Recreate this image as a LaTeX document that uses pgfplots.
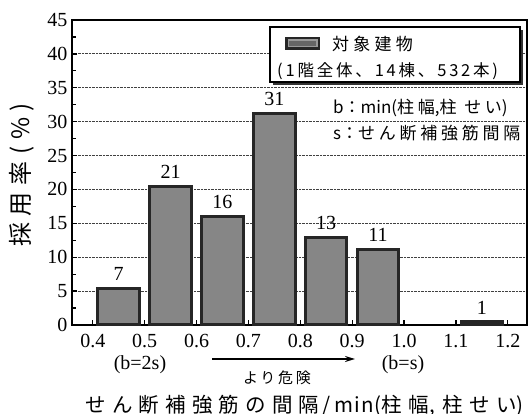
\documentclass[border=0pt]{standalone}
\usepackage{pgfplots}
\pgfplotsset{compat=1.18}
\usepackage{fontspec}
\setmainfont{Liberation Serif}
\newfontfamily\jp{Noto Sans CJK JP}
\usetikzlibrary{arrows.meta}
\begin{document}
\begin{tikzpicture}
\begin{axis}[
  name=ax,
  scale only axis, width=455pt, height=305pt,
  xmin=0.36, xmax=1.237, ymin=0, ymax=45,
  axis line style={line width=1.8pt},
  xtick={0.4,0.5,0.6,0.7,0.8,0.9,1.0,1.1,1.2},
  xticklabels={0.4,0.5,0.6,0.7,0.8,0.9,1.0,1.1,1.2},
  ytick={0,5,10,15,20,25,30,35,40,45},
  minor ytick={2.5,7.5,12.5,17.5,22.5,27.5,32.5,37.5,42.5},
  /pgf/number format/assume math mode=true,
  tick align=inside, xtick pos=bottom, ytick pos=left,
  major tick length=5pt, minor tick length=4pt,
  tick style={line width=1.3pt, black},
  ymajorgrids, grid style={densely dotted, line width=0.8pt, black!75},
  ticklabel style={font=\fontsize{20}{20}\selectfont},
  xticklabel style={yshift=-6pt},
  yticklabel style={xshift=-1pt},
  clip=false,
]
\addplot[ybar, bar width=0.08, fill=gray!95, draw=black!85, line width=3pt,
  nodes near coords, point meta=explicit symbolic,
  nodes near coords style={font=\fontsize{20}{20}\selectfont, anchor=south, inner sep=0pt, yshift=6pt, black}]
  coordinates {(0.45,5.4) [7] (0.55,20.5) [21] (0.65,16.0) [16] (0.75,31.2) [31] (0.85,12.9) [13] (0.95,11.2) [11] (1.15,0.5) [1]};
\end{axis}
\begin{scope}[shift={(ax.south west)}, x=1pt, y=1pt]
  % legend box with shadow
  \fill[black!80] (201,240) rectangle (451,295);
  \draw[line width=1.4pt, fill=white] (198,243) rectangle (448,298);
  \fill[black!85] (213,275) rectangle (248,288);
  \fill[gray!80] (215.5,277.5) rectangle (245.5,285.5);
  \fill[black!60] (217,279) rectangle (244,284);
  \node[anchor=west, inner sep=0pt] at (260,281) {\jp\fontsize{17}{17}\selectfont\addfontfeature{LetterSpace=25}対象建物};
  \node[anchor=west, inner sep=0pt] at (205,254) {\jp\fontsize{16.5}{16.5}\selectfont\addfontfeature{LetterSpace=17}(1階全体、14棟、532本)};
  \node[anchor=west, inner sep=0pt] at (261,217) {\jp\fontsize{17}{17}\selectfont b：min({\addfontfeature{LetterSpace=22}柱幅},{\addfontfeature{LetterSpace=22}柱 せい})};
  \node[anchor=west, inner sep=0pt] at (261,192) {\jp\fontsize{17}{17}\selectfont s：{\addfontfeature{LetterSpace=22}せん断補強筋間隔}};
  % annotations below x axis
  \node[inner sep=0pt] at (68,-40) {\fontsize{20}{20}\selectfont (b=2s)};
  \node[inner sep=0pt] at (331,-40) {\fontsize{20}{20}\selectfont (b=s)};
  \draw[line width=1.6pt, -{Stealth[length=10pt,width=6pt]}] (140,-34) -- (283,-34);
  \node[inner sep=0pt] at (205,-53) {\jp\fontsize{15}{15}\selectfont\addfontfeature{LetterSpace=18}より危険};
  % axis labels
  \node[inner sep=0pt] at (232.5,-81) {\jp\fontsize{20.5}{20.5}\selectfont{\addfontfeature{LetterSpace=30}せん断補強筋の間隔}\,/\,{\addfontfeature{LetterSpace=6}min(}{\addfontfeature{LetterSpace=30}柱幅}, \,{\addfontfeature{LetterSpace=30}柱せい})};
  \node[inner sep=0pt, rotate=90] at (-50,150) {\jp\fontsize{24}{24}\selectfont\addfontfeature{LetterSpace=28}採用率(\%)};
  \pgfresetboundingbox
  \path[use as bounding box] (-72,-89) rectangle (458,325);
\end{scope}
\end{tikzpicture}
\end{document}
